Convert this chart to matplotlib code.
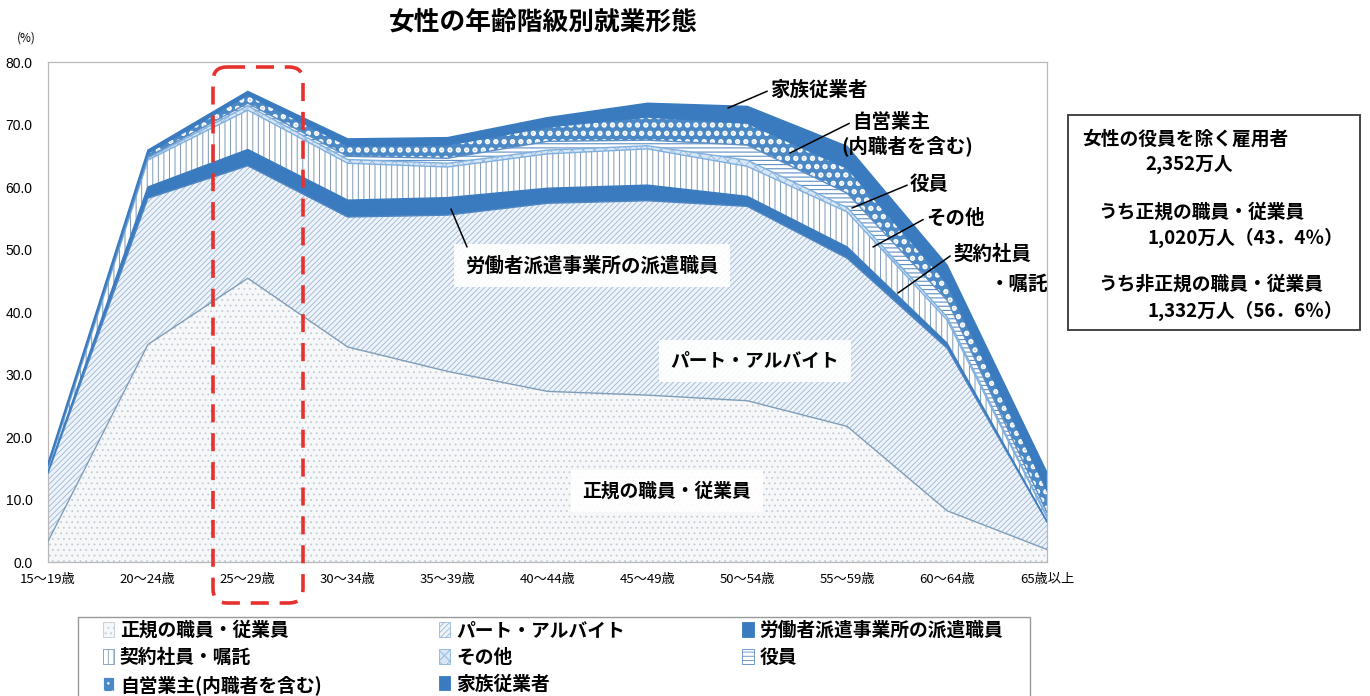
import numpy as np
import matplotlib
matplotlib.use("Agg")
import matplotlib.pyplot as plt
from matplotlib.patches import Rectangle, FancyBboxPatch, Patch

plt.rcParams['font.family'] = ['Noto Sans CJK JP', 'DejaVu Sans']
plt.rcParams['hatch.linewidth'] = 0.6

# Age groups
ages = ["15～19歳", "20～24歳", "25～29歳", "30～34歳", "35～39歳", "40～44歳",
        "45～49歳", "50～54歳", "55～59歳", "60～64歳", "65歳以上"]

# Share of the female population by employment type (%)
regular        = [3.3, 34.8, 45.4, 34.4, 30.5, 27.3, 26.7, 25.8, 21.7, 8.2, 2.0]
part_time      = [10.9, 23.4, 18.0, 20.8, 25.0, 30.1, 31.1, 31.1, 26.9, 26.0, 4.4]
dispatched     = [0.3, 1.8, 2.6, 2.7, 2.8, 2.4, 2.5, 1.6, 1.8, 0.8, 0.1]
contract       = [0.5, 4.3, 6.3, 5.9, 4.9, 5.5, 5.8, 4.8, 5.6, 3.7, 0.6]
other          = [0.2, 0.3, 0.7, 0.6, 0.6, 0.6, 0.5, 1.0, 0.7, 0.5, 0.2]
executives     = [0.1, 0.2, 0.4, 0.5, 0.8, 1.4, 0.9, 2.4, 2.3, 2.7, 0.6]
self_employed  = [0.2, 0.6, 1.3, 1.7, 2.1, 2.3, 3.7, 3.5, 4.0, 2.7, 3.5]
family_workers = [0.3, 0.5, 0.6, 1.1, 1.2, 1.5, 2.2, 2.7, 3.5, 2.9, 2.9]

labels = ["正規の職員・従業員", "パート・アルバイト", "労働者派遣事業所の派遣職員",
          "契約社員・嘱託", "その他", "役員", "自営業主(内職者を含む)", "家族従業者"]

BLUE = "#3a7bbf"
# (face colour, hatch, hatch colour, boundary line colour, hatch width)
styles = [
    ("#f6f7f9", "...", "#c3ccd6", "#7f9db8", 0.6),
    ("#eef3f9", "//////", "#9bb7d6", "#4f86c2", 0.6),
    (BLUE, None, None, BLUE, 0.6),
    ("#ffffff", "|||", "#7d98b5", "#7fb0df", 0.7),
    ("#d6e6f5", "xxx", "#8db5de", "#7fb0df", 0.6),
    ("#ffffff", "----", "#5d8ec6", "#5d8ec6", 0.8),
    ("#4a88c6", "..", "#ffffff", BLUE, 2.6),
    (BLUE, None, None, BLUE, 0.6),
]

series = [regular, part_time, dispatched, contract, other,
          executives, self_employed, family_workers]

W, H = 1370, 696
fig = plt.figure(figsize=(W / 100, H / 100), dpi=100)
fig.patch.set_facecolor("white")

# main plot area
L, R, T, B = 48, 1047, 62, 562
ax = fig.add_axes([L / W, 1 - B / H, (R - L) / W, (B - T) / H])
x = np.arange(len(ages))
lower = np.zeros(len(ages))
for vals, (face, hatch, hcol, lcol, hlw) in zip(series, styles):
    upper = lower + np.array(vals)
    ax.fill_between(x, lower, upper, facecolor=face, edgecolor="none", lw=0, zorder=1)
    if hatch:
        with plt.rc_context({"hatch.linewidth": hlw}):
            coll = ax.fill_between(x, lower, upper, facecolor="none", edgecolor=hcol,
                                   hatch=hatch, lw=0, zorder=2)
            if hasattr(coll, "set_hatch_linewidth"):
                coll.set_hatch_linewidth(hlw)
    ax.plot(x, upper, color=lcol, lw=1.0, zorder=3)
    lower = upper

ax.set_xlim(0, len(ages) - 1)
ax.set_ylim(0, 80)
ax.set_yticks(np.arange(0, 81, 10))
ax.set_yticklabels([f"{v:.1f}" for v in np.arange(0, 81, 10)],
                   fontsize=10, family=["Liberation Sans", "DejaVu Sans"])
ax.set_xticks(x)
ax.set_xticklabels(ages, fontsize=9.5)
ax.tick_params(length=0, pad=8)
ax.tick_params(axis="y", pad=11)
for sp in ax.spines.values():
    sp.set_color("#b8b8b8")
    sp.set_linewidth(0.9)

# labels inside the chart
box = dict(boxstyle="square,pad=0.6", facecolor="white", edgecolor="none", alpha=0.92)
ax.text(5.445, 47.4, "労働者派遣事業所の派遣職員", fontsize=14, fontweight="bold",
        ha="center", va="center", bbox=box, zorder=6)
ax.text(7.077, 32.2, "パート・アルバイト", fontsize=13.5, fontweight="bold",
        ha="center", va="center", bbox=box, zorder=6)
ax.text(6.196, 11.4, "正規の職員・従業員", fontsize=13.5, fontweight="bold",
        ha="center", va="center", bbox=box, zorder=6)

# overlay in pixel coordinates for annotations and frames
ov = fig.add_axes([0, 0, 1, 1])
ov.set_xlim(0, W)
ov.set_ylim(H, 0)
ov.axis("off")
ov.patch.set_visible(False)
ov.set_zorder(5)


def px(xp, yp):
    return ((xp - L) / (R - L) * (len(ages) - 1), (B - yp) / (B - T) * 80)


def leader(text, point, tpos, fs=14):
    ax.annotate(text, xy=px(*point), xytext=tpos, textcoords=ov.transData,
                fontsize=fs, fontweight="bold", ha="left", va="center", zorder=7,
                annotation_clip=False,
                arrowprops=dict(arrowstyle="-", color="black", lw=1.1,
                                shrinkA=0, shrinkB=0, relpos=(0, 0.5)))


leader("家族従業者", (728, 108), (770, 90))
leader("自営業主", (790, 153), (852, 122))
ov.text(841, 146, "(内職者を含む)", fontsize=14, fontweight="bold", ha="left", va="center")
leader("役員", (852, 208), (910, 184))
leader("その他", (873, 247), (926, 218))
leader("契約社員", (898, 293), (953, 254))
ov.text(990, 284, "・嘱託", fontsize=14, fontweight="bold", ha="left", va="center")
ax.annotate("", xy=px(451, 209), xytext=(467, 247), textcoords=ov.transData,
            arrowprops=dict(arrowstyle="-", color="black", lw=1.1, shrinkA=0, shrinkB=0),
            zorder=7, annotation_clip=False)

# title and unit
ov.text(543, 22, "女性の年齢階級別就業形態", fontsize=18.5, fontweight="bold",
        ha="center", va="center")
ov.text(26, 38, "(%)", fontsize=8.5, ha="center", va="center")

# highlight around the 25-29 age group
hl = FancyBboxPatch((213, 67), 90, 536, boxstyle="round,pad=0,rounding_size=14",
                    facecolor="none", edgecolor="#e5322e", lw=2.6,
                    linestyle=(0, (5, 3)), zorder=8)
ov.add_patch(hl)

# summary box
ov.add_patch(Rectangle((1068, 115), 292, 215, facecolor="white", edgecolor="#444444", lw=1.4))
summary = [
    (1082, 139, "女性の役員を除く雇用者"),
    (1145, 164, "2,352万人"),
    (1098, 212, "うち正規の職員・従業員"),
    (1148, 238, "1,020万人（43．4％）"),
    (1098, 284, "うち非正規の職員・従業員"),
    (1148, 311, "1,332万人（56．6％）"),
]
for xp, yp, s in summary:
    ov.text(xp, yp, s, fontsize=13.5, fontweight="bold", ha="left", va="center")

# legend
ov.add_patch(Rectangle((78, 617), 952, 90, facecolor="white", edgecolor="#999999",
                       lw=1.0, zorder=1))
handles = []
for face, hatch, hcol, lcol, hlw in styles:
    handles.append(Patch(facecolor=face, edgecolor=hcol if hcol else lcol,
                         hatch=hatch, lw=0.6))
order = [0, 3, 6, 1, 4, 7, 2, 5]
leg = fig.legend([handles[i] for i in order], [labels[i] for i in order], ncol=3,
                 loc="upper left",
                 bbox_to_anchor=(103 / W, 1 - 621 / H, (1003 - 103) / W, 0.0),
                 mode="expand", frameon=False,
                 prop={"size": 13.5, "weight": "bold"},
                 handlelength=0.6, handleheight=0.8,
                 handletextpad=0.3, labelspacing=0.42, borderpad=0,
                 borderaxespad=0)
leg.set_zorder(6)

fig.savefig("out.png", dpi=100)
